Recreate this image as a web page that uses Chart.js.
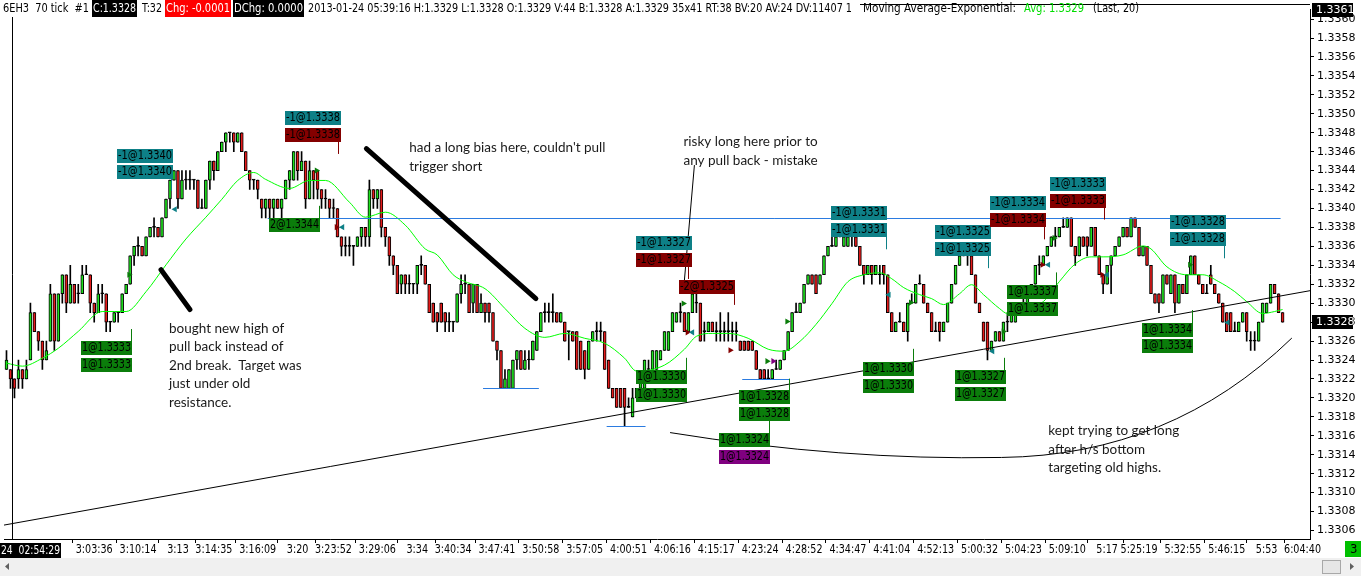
<!DOCTYPE html>
<html>
<head>
<meta charset="utf-8">
<title>6EH3 70 tick</title>
<script src="https://cdn.jsdelivr.net/npm/chart.js@4.4.1/dist/chart.umd.min.js"></script>
<style>
  html, body { margin: 0; padding: 0; background: #fff; }
  #wrap { width: 1361px; height: 576px; }
</style>
</head>
<body>
<div id="wrap"><canvas id="tickChart" width="1361" height="576"></canvas></div>
<script>
// 6EH3 70 tick bars, one entry per bar (bar index = position in the array)
const opens = [
  1.3323,1.3323,1.3322,1.3322,1.3323,1.3322,1.3324,1.3329,1.3327,1.3326,
  1.3324,1.3326,1.3331,1.3326,1.3331,1.3333,1.3330,1.3332,1.3331,1.3331,
  1.3333,1.3333,1.3330,1.3329,1.3331,1.3331,1.3328,1.3328,1.3329,1.3329,
  1.3331,1.3332,1.3335,1.3336,1.3336,1.3335,1.3337,1.3338,1.3338,1.3337,
  1.3339,1.3341,1.3343,1.3344,1.3341,1.3343,1.3343,1.3343,1.3343,1.3340,
  1.3340,1.3343,1.3345,1.3344,1.3346,1.3347,1.3348,1.3348,1.3347,1.3348,
  1.3346,1.3344,1.3343,1.3343,1.3341,1.3340,1.3341,1.3340,1.3341,1.3340,
  1.3341,1.3343,1.3343,1.3346,1.3344,1.3345,1.3341,1.3344,1.3344,1.3342,
  1.3341,1.3341,1.3340,1.3340,1.3337,1.3336,1.3336,1.3336,1.3336,1.3337,
  1.3338,1.3337,1.3342,1.3341,1.3342,1.3338,1.3337,1.3335,1.3334,1.3332,
  1.3333,1.3332,1.3332,1.3332,1.3334,1.3334,1.3332,1.3330,1.3329,1.3330,
  1.3329,1.3328,1.3328,1.3328,1.3331,1.3332,1.3332,1.3330,1.3332,1.3329,
  1.3330,1.3330,1.3329,1.3326,1.3325,1.3321,1.3321,1.3321,1.3324,1.3325,
  1.3323,1.3324,1.3324,1.3325,1.3327,1.3329,1.3329,1.3329,1.3329,1.3328,
  1.3328,1.3327,1.3327,1.3327,1.3326,1.3325,1.3323,1.3326,1.3327,1.3327,
  1.3327,1.3324,1.3321,1.3321,1.3321,1.3321,1.3319,1.3318,1.3320,1.3321,
  1.3321,1.3323,1.3323,1.3323,1.3324,1.3325,1.3325,1.3327,1.3328,1.3329,
  1.3329,1.3327,1.3329,1.3330,1.3330,1.3327,1.3327,1.3328,1.3327,1.3327,
  1.3327,1.3327,1.3327,1.3327,1.3326,1.3326,1.3326,1.3326,1.3325,1.3323,
  1.3323,1.3322,1.3322,1.3323,1.3323,1.3324,1.3325,1.3327,1.3329,1.3329,
  1.3330,1.3332,1.3333,1.3333,1.3332,1.3333,1.3335,1.3336,1.3336,1.3337,
  1.3336,1.3336,1.3337,1.3337,1.3336,1.3334,1.3333,1.3334,1.3333,1.3333,
  1.3334,1.3333,1.3329,1.3327,1.3328,1.3328,1.3327,1.3330,1.3330,1.3332,
  1.3332,1.3330,1.3329,1.3327,1.3328,1.3327,1.3328,1.3330,1.3332,1.3334,
  1.3335,1.3335,1.3335,1.3333,1.3330,1.3328,1.3328,1.3325,1.3326,1.3327,
  1.3326,1.3328,1.3328,1.3328,1.3329,1.3329,1.3330,1.3331,1.3332,1.3334,
  1.3334,1.3335,1.3336,1.3337,1.3337,1.3338,1.3338,1.3339,1.3336,1.3335,
  1.3337,1.3337,1.3336,1.3338,1.3335,1.3333,1.3332,1.3334,1.3335,1.3336,
  1.3337,1.3338,1.3337,1.3339,1.3338,1.3335,1.3336,1.3334,1.3331,1.3331,
  1.3330,1.3333,1.3331,1.3333,1.3330,1.3332,1.3331,1.3333,1.3335,1.3333,
  1.3332,1.3331,1.3333,1.3332,1.3331,1.3330,1.3329,1.3329,1.3327,1.3327,
  1.3328,1.3329,1.3326,1.3326,1.3326,1.3328,1.3329,1.3330,1.3332,1.3331,1.3329
];
const closes = [
  1.3324,1.3322,1.3321,1.3323,1.3322,1.3323,1.3329,1.3327,1.3326,1.3324,
  1.3325,1.3331,1.3326,1.3331,1.3333,1.3330,1.3332,1.3330,1.3331,1.3333,
  1.3333,1.3330,1.3329,1.3331,1.3331,1.3328,1.3328,1.3329,1.3329,1.3331,
  1.3332,1.3335,1.3336,1.3336,1.3335,1.3337,1.3338,1.3338,1.3337,1.3339,
  1.3341,1.3343,1.3344,1.3341,1.3343,1.3343,1.3343,1.3343,1.3340,1.3340,
  1.3343,1.3345,1.3344,1.3346,1.3347,1.3348,1.3348,1.3347,1.3348,1.3346,
  1.3344,1.3343,1.3343,1.3342,1.3340,1.3341,1.3340,1.3341,1.3340,1.3341,
  1.3343,1.3344,1.3346,1.3344,1.3345,1.3341,1.3344,1.3343,1.3342,1.3341,
  1.3341,1.3340,1.3340,1.3337,1.3336,1.3336,1.3336,1.3336,1.3337,1.3338,
  1.3337,1.3342,1.3341,1.3342,1.3338,1.3337,1.3335,1.3334,1.3331,1.3333,
  1.3332,1.3332,1.3332,1.3334,1.3334,1.3332,1.3329,1.3328,1.3328,1.3328,
  1.3328,1.3328,1.3328,1.3331,1.3332,1.3332,1.3329,1.3332,1.3329,1.3330,
  1.3329,1.3329,1.3326,1.3325,1.3321,1.3322,1.3323,1.3324,1.3325,1.3323,
  1.3324,1.3324,1.3326,1.3327,1.3329,1.3329,1.3329,1.3329,1.3328,1.3329,
  1.3326,1.3327,1.3326,1.3323,1.3323,1.3323,1.3326,1.3327,1.3327,1.3327,
  1.3323,1.3321,1.3320,1.3319,1.3319,1.3319,1.3319,1.3320,1.3321,1.3322,
  1.3324,1.3323,1.3325,1.3325,1.3325,1.3327,1.3327,1.3329,1.3329,1.3329,
  1.3327,1.3329,1.3331,1.3330,1.3326,1.3327,1.3328,1.3327,1.3327,1.3327,
  1.3327,1.3327,1.3327,1.3327,1.3325,1.3325,1.3325,1.3325,1.3323,1.3322,
  1.3322,1.3322,1.3323,1.3323,1.3324,1.3325,1.3327,1.3329,1.3329,1.3330,
  1.3332,1.3333,1.3332,1.3331,1.3333,1.3335,1.3336,1.3336,1.3337,1.3337,
  1.3337,1.3337,1.3337,1.3336,1.3334,1.3333,1.3334,1.3333,1.3334,1.3333,
  1.3333,1.3329,1.3327,1.3328,1.3328,1.3327,1.3330,1.3330,1.3332,1.3332,
  1.3330,1.3329,1.3327,1.3327,1.3327,1.3328,1.3330,1.3332,1.3334,1.3335,
  1.3335,1.3335,1.3333,1.3330,1.3329,1.3326,1.3325,1.3326,1.3327,1.3326,
  1.3328,1.3328,1.3329,1.3329,1.3330,1.3330,1.3331,1.3332,1.3334,1.3334,
  1.3335,1.3336,1.3337,1.3337,1.3338,1.3338,1.3339,1.3336,1.3335,1.3337,
  1.3336,1.3336,1.3338,1.3335,1.3333,1.3332,1.3334,1.3335,1.3336,1.3337,
  1.3338,1.3337,1.3339,1.3338,1.3335,1.3336,1.3334,1.3331,1.3330,1.3330,
  1.3333,1.3332,1.3333,1.3330,1.3332,1.3331,1.3333,1.3335,1.3333,1.3332,
  1.3331,1.3331,1.3332,1.3331,1.3330,1.3328,1.3327,1.3327,1.3327,1.3328,
  1.3329,1.3327,1.3326,1.3326,1.3328,1.3330,1.3330,1.3332,1.3331,1.3329,1.3328
];
const highs = [
  1.3325,1.3323,1.3322,1.3324,1.3323,1.3324,1.3330,1.3329,1.3327,1.3326,
  1.3326,1.3332,1.3331,1.3331,1.3333,1.3333,1.3334,1.3332,1.3332,1.3334,
  1.3334,1.3333,1.3330,1.3332,1.3332,1.3331,1.3328,1.3329,1.3329,1.3331,
  1.3332,1.3335,1.3336,1.3337,1.3336,1.3337,1.3338,1.3339,1.3338,1.3339,
  1.3341,1.3343,1.3344,1.3344,1.3344,1.3344,1.3344,1.3343,1.3343,1.3341,
  1.3343,1.3345,1.3345,1.3346,1.3347,1.3348,1.3348,1.3348,1.3348,1.3348,
  1.3346,1.3344,1.3343,1.3343,1.3341,1.3341,1.3341,1.3341,1.3341,1.3341,
  1.3343,1.3344,1.3346,1.3346,1.3346,1.3345,1.3345,1.3344,1.3344,1.3342,
  1.3342,1.3341,1.3341,1.3340,1.3337,1.3337,1.3337,1.3336,1.3337,1.3338,
  1.3338,1.3343,1.3342,1.3342,1.3342,1.3338,1.3337,1.3335,1.3334,1.3333,
  1.3333,1.3333,1.3332,1.3334,1.3335,1.3334,1.3332,1.3330,1.3329,1.3330,
  1.3329,1.3329,1.3328,1.3331,1.3333,1.3333,1.3332,1.3332,1.3332,1.3331,
  1.3330,1.3330,1.3329,1.3326,1.3325,1.3323,1.3323,1.3324,1.3325,1.3325,
  1.3325,1.3325,1.3326,1.3327,1.3329,1.3330,1.3330,1.3331,1.3329,1.3329,
  1.3328,1.3327,1.3327,1.3327,1.3326,1.3325,1.3326,1.3327,1.3328,1.3328,
  1.3327,1.3324,1.3321,1.3321,1.3321,1.3321,1.3320,1.3321,1.3321,1.3322,
  1.3324,1.3324,1.3325,1.3325,1.3325,1.3327,1.3327,1.3329,1.3329,1.3330,
  1.3329,1.3329,1.3332,1.3331,1.3330,1.3328,1.3328,1.3328,1.3328,1.3329,
  1.3328,1.3329,1.3328,1.3328,1.3326,1.3326,1.3326,1.3326,1.3325,1.3323,
  1.3323,1.3323,1.3323,1.3324,1.3324,1.3325,1.3327,1.3329,1.3330,1.3330,
  1.3332,1.3333,1.3333,1.3333,1.3333,1.3335,1.3336,1.3337,1.3337,1.3338,
  1.3337,1.3337,1.3338,1.3337,1.3336,1.3334,1.3334,1.3334,1.3334,1.3334,
  1.3334,1.3333,1.3329,1.3328,1.3329,1.3328,1.3330,1.3331,1.3332,1.3333,
  1.3332,1.3330,1.3329,1.3328,1.3328,1.3328,1.3330,1.3332,1.3334,1.3335,
  1.3336,1.3336,1.3335,1.3333,1.3330,1.3328,1.3328,1.3326,1.3327,1.3327,
  1.3328,1.3329,1.3329,1.3330,1.3330,1.3331,1.3331,1.3332,1.3334,1.3335,
  1.3335,1.3336,1.3337,1.3338,1.3338,1.3339,1.3339,1.3339,1.3336,1.3337,
  1.3337,1.3337,1.3338,1.3338,1.3335,1.3333,1.3334,1.3335,1.3336,1.3337,
  1.3338,1.3338,1.3339,1.3339,1.3338,1.3336,1.3336,1.3334,1.3331,1.3331,
  1.3333,1.3333,1.3333,1.3333,1.3332,1.3332,1.3333,1.3335,1.3335,1.3333,
  1.3332,1.3332,1.3334,1.3332,1.3331,1.3330,1.3329,1.3329,1.3328,1.3328,
  1.3329,1.3329,1.3327,1.3327,1.3328,1.3330,1.3330,1.3332,1.3332,1.3331,1.3329
];
const lows = [
  1.3323,1.3321,1.3320,1.3321,1.3321,1.3322,1.3324,1.3327,1.3325,1.3323,
  1.3324,1.3326,1.3325,1.3326,1.3330,1.3329,1.3330,1.3330,1.3330,1.3331,
  1.3333,1.3329,1.3328,1.3329,1.3330,1.3327,1.3327,1.3328,1.3328,1.3329,
  1.3331,1.3332,1.3334,1.3335,1.3335,1.3335,1.3337,1.3337,1.3337,1.3337,
  1.3339,1.3340,1.3343,1.3340,1.3341,1.3342,1.3342,1.3342,1.3340,1.3340,
  1.3340,1.3342,1.3343,1.3344,1.3346,1.3346,1.3347,1.3346,1.3347,1.3346,
  1.3344,1.3342,1.3342,1.3341,1.3339,1.3339,1.3339,1.3339,1.3340,1.3339,
  1.3341,1.3342,1.3343,1.3343,1.3344,1.3340,1.3341,1.3341,1.3341,1.3340,
  1.3340,1.3339,1.3339,1.3337,1.3335,1.3335,1.3335,1.3334,1.3336,1.3336,
  1.3336,1.3336,1.3340,1.3340,1.3337,1.3336,1.3334,1.3333,1.3331,1.3331,
  1.3331,1.3331,1.3331,1.3331,1.3333,1.3332,1.3329,1.3328,1.3327,1.3328,
  1.3327,1.3327,1.3327,1.3328,1.3330,1.3331,1.3329,1.3329,1.3329,1.3329,
  1.3328,1.3328,1.3326,1.3324,1.3321,1.3321,1.3321,1.3321,1.3323,1.3323,
  1.3323,1.3323,1.3324,1.3325,1.3327,1.3328,1.3328,1.3328,1.3328,1.3328,
  1.3326,1.3324,1.3326,1.3323,1.3323,1.3322,1.3323,1.3326,1.3326,1.3326,
  1.3323,1.3321,1.3320,1.3319,1.3319,1.3317,1.3319,1.3318,1.3320,1.3320,
  1.3321,1.3322,1.3323,1.3323,1.3324,1.3325,1.3325,1.3327,1.3328,1.3328,
  1.3327,1.3327,1.3329,1.3329,1.3326,1.3326,1.3327,1.3327,1.3326,1.3326,
  1.3326,1.3326,1.3326,1.3326,1.3325,1.3325,1.3325,1.3325,1.3323,1.3322,
  1.3322,1.3322,1.3322,1.3323,1.3323,1.3324,1.3325,1.3327,1.3329,1.3329,
  1.3330,1.3332,1.3332,1.3331,1.3332,1.3333,1.3335,1.3336,1.3336,1.3337,
  1.3336,1.3336,1.3336,1.3336,1.3334,1.3332,1.3333,1.3332,1.3333,1.3332,
  1.3332,1.3329,1.3327,1.3327,1.3328,1.3327,1.3326,1.3330,1.3330,1.3332,
  1.3330,1.3329,1.3327,1.3327,1.3326,1.3327,1.3328,1.3330,1.3332,1.3334,
  1.3335,1.3334,1.3333,1.3330,1.3329,1.3326,1.3324,1.3325,1.3326,1.3326,
  1.3326,1.3327,1.3328,1.3328,1.3329,1.3329,1.3330,1.3331,1.3332,1.3333,
  1.3334,1.3335,1.3336,1.3336,1.3337,1.3338,1.3338,1.3336,1.3334,1.3335,
  1.3336,1.3335,1.3336,1.3335,1.3333,1.3331,1.3332,1.3331,1.3335,1.3336,
  1.3337,1.3337,1.3337,1.3338,1.3335,1.3335,1.3334,1.3331,1.3330,1.3329,
  1.3330,1.3332,1.3331,1.3329,1.3330,1.3331,1.3331,1.3333,1.3333,1.3332,
  1.3331,1.3331,1.3332,1.3331,1.3330,1.3328,1.3327,1.3327,1.3327,1.3327,
  1.3328,1.3326,1.3325,1.3325,1.3326,1.3328,1.3329,1.3330,1.3331,1.3329,1.3328
];

// Exponential moving average (Last, 20) at these bars
const emaBar = [0,4,9,13,18,24,27,30,35,40,45,50,54,58,62,65,71,76,80,86,
  90,95,100,105,108,112,115,120,125,130,135,140,145,150,155,158,165,170,173,177,
  181,186,191,195,199,203,207,211,215,219,222,225,229,232,235,239,242,245,249,251,
  255,260,264,268,272,275,280,285,287,291,296,300,304,308,311,315,318,320];
const emaValue = [1.332367,1.332335,1.332419,1.332524,1.332702,1.332912,1.332912,1.332912,1.333122,1.333405,
  1.333678,1.333908,1.334097,1.334296,1.33438,1.334307,1.334212,1.334296,1.334296,1.334066,
  1.333908,1.333961,1.333824,1.333573,1.33351,1.3333,1.333227,1.333153,1.332944,1.332734,
  1.332639,1.332681,1.332629,1.332577,1.332419,1.332283,1.332346,1.332514,1.33265,1.332681,
  1.332681,1.332629,1.332514,1.332493,1.332598,1.332776,1.332996,1.333227,1.3333,1.333321,
  1.333258,1.333164,1.33309,1.333048,1.332985,1.3331,1.333195,1.33309,1.332944,1.332891,
  1.332933,1.333017,1.333227,1.333415,1.333489,1.333489,1.33351,1.333604,1.333573,1.333384,
  1.3333,1.3333,1.333227,1.333122,1.333017,1.332891,1.332912,1.332933];

// executions drawn as small arrows on the bars
const fillBar = [30.75,42.25,77.75,82.75,84.25,169.75,170.75,172,181.5,190.75,192.25,195.75,
  221.25,226.75,247.25,250,259.75,261.25,262.75,274.75,276,296.75,306.25];
const fillPrice = [1.3333,1.333992,1.334401,1.333803,1.333803,1.332996,1.332692,1.332692,1.332503,1.332388,1.332388,1.332807,
  1.33309,1.333006,1.332493,1.332702,1.333405,1.333405,1.333688,1.3333,1.3333,1.333405,1.332797];
const fillSide = ['buy','sell','buy','exit','sell','buy','exit','sell','exit','buy','stop','buy',
  'sell','buy','sell','buy','exit','sell','buy','exit','sell','buy','sell'];

// time axis
const tickBars = [22,33,43,52,63,73,82,93,103,112,123,134,145,156,167,178,189,200,211,222,233,244,255,266,276,284,295,306,316,325];
const tickTimes = ['3:03:36','3:10:14','3:13','3:14:35','3:16:09','3:20','3:23:52','3:29:06','3:34','3:40:34',
  '3:47:41','3:50:58','3:57:05','4:00:51','4:06:16','4:15:17','4:23:24','4:28:52','4:34:47','4:41:04',
  '4:52:13','5:00:32','5:04:23','5:09:10','5:17','5:25:19','5:32:55','5:46:15','5:53','6:04:40'];
const priceTicks = [1.3306,1.3308,1.3310,1.3312,1.3314,1.3316,1.3318,1.3320,1.3322,1.3324,1.3326,1.3328,1.3330,
  1.3332,1.3334,1.3336,1.3338,1.3340,1.3342,1.3344,1.3346,1.3348,1.3350,1.3352,1.3354,1.3356,1.3358,1.3360];

// order labels: [bar, top price, text, kind]
const tradeLabels = [
  [27.75,1.334632,'-1@1.3340','sell'],[27.75,1.334454,'-1@1.3340','sell'],
  [69.75,1.33503,'-1@1.3338','sell'],[69.75,1.334852,'-1@1.3338','exit'],
  [65.75,1.333898,'2@1.3344','buy'],
  [18.75,1.332597,'1@1.3333','buy'],[18.75,1.332419,'1@1.3333','buy'],
  [157.75,1.333709,'-1@1.3327','sell'],[157.75,1.333531,'-1@1.3327','exit'],
  [168.75,1.333248,'-2@1.3325','exit'],
  [157.75,1.332293,'1@1.3330','buy'],[157.75,1.332105,'1@1.3330','buy'],
  [183.75,1.332084,'1@1.3328','buy'],[183.75,1.331905,'1@1.3328','buy'],
  [178.75,1.331633,'1@1.3324','buy'],[178.75,1.331454,'1@1.3324','stop'],
  [206.75,1.334024,'-1@1.3331','sell'],[206.75,1.333845,'-1@1.3331','sell'],
  [214.75,1.332377,'1@1.3330','buy'],[214.75,1.332199,'1@1.3330','buy'],
  [232.75,1.333824,'-1@1.3325','sell'],[232.75,1.333646,'-1@1.3325','sell'],
  [246.75,1.334129,'-1@1.3334','sell'],[246.75,1.33395,'-1@1.3334','exit'],
  [261.75,1.334328,'-1@1.3333','sell'],[261.75,1.33415,'-1@1.3333','exit'],
  [251,1.333195,'1@1.3337','buy'],[251,1.333017,'1@1.3337','buy'],
  [237.75,1.332293,'1@1.3327','buy'],[237.75,1.332115,'1@1.3327','buy'],
  [291.75,1.333929,'-1@1.3328','sell'],[291.75,1.333751,'-1@1.3328','sell'],
  [284.75,1.332786,'1@1.3334','buy'],[284.75,1.332618,'1@1.3334','buy']
];
// little leader lines under the labels: [bar, price from, price to, kind]
const labelLeaders = [
  [41.25,1.334307,1.334191,'sell'],[83.25,1.334716,1.33458,'exit'],[78.25,1.334024,1.333898,'buy'],
  [31.25,1.332723,1.332597,'buy'],[171,1.333394,1.33326,'exit'],[182.5,1.333111,1.332986,'exit'],
  [170.5,1.332419,1.332293,'buy'],[196.25,1.332199,1.332084,'buy'],[191.25,1.331759,1.331633,'buy'],
  [220.5,1.333709,1.333573,'sell'],[227.25,1.332514,1.332377,'buy'],[246.25,1.3335,1.333374,'sell'],
  [260.25,1.333814,1.333678,'exit'],[275.25,1.334013,1.333887,'exit'],[263.25,1.333321,1.333195,'buy'],
  [250.25,1.332419,1.332293,'buy'],[305.25,1.333615,1.333478,'sell'],[297.25,1.332923,1.332786,'buy']
];
// hand written notes: [bar, price of first line, lines]
const notes = [
  [40.75,1.332734,['bought new high of','pull back instead of','2nd break.  Target was','just under old','resistance.']],
  [101,1.334642,["had a long bias here, couldn't pull",'trigger short']],
  [169.75,1.334705,['risky long here prior to','any pull back - mistake']],
  [261.25,1.331654,['kept trying to get long','after h/s bottom','targeting old highs.']]
];
// drawn lines: [bar1, price1, bar2, price2, width]
const drawnLines = [
  [-0.625,1.330657,326.875,1.333132,1],
  [38.75,1.333353,46,1.332933,5],
  [90.25,1.334632,132.75,1.333048,5],
  [172.5,1.334454,169.75,1.333122,1]
];
// head and shoulders bottom curve: start, control, mid, control, end
const hsCurve = [[166.5,1.331633],[209.5,1.331339],[249.5,1.331371],[292,1.331392],[322.25,1.332629]];
// horizontal levels: [price, from bar, to bar]
const levels = [[1.3339,65.5,319.5],[1.3321,119.5,133.5],[1.3317,150.5,160.25],[1.3322,184.5,196.25]];

const UP = '#1ee01e', DOWN = '#e41b1b';
const KIND = { buy: '#0b7d0b', sell: '#0e8087', exit: '#840000', stop: '#800080' };
const NARROW = "'DejaVu Sans Condensed','Liberation Sans Narrow',sans-serif";

// squeeze a string horizontally, like the platform's narrow font
function narrowText(c, s, x, y, squeeze, align) {
  const w = c.measureText(s).width * squeeze;
  const left = align === 'center' ? x - w / 2 : x;
  c.fillText(s, left, y, w);
}

const overlay = {
  id: 'overlay',
  beforeDraw(chart) {
    const c = chart.ctx;
    c.save();
    c.fillStyle = '#fff';
    c.fillRect(0, 0, chart.width, chart.height);
    c.restore();
  },
  afterDatasetsDraw(chart) {
    const c = chart.ctx, a = chart.chartArea;
    const X = v => chart.scales.x.getPixelForValue(v);
    const Y = v => chart.scales.y.getPixelForValue(v);
    c.save();
    c.beginPath();
    c.rect(a.left, a.top, a.right - a.left, a.bottom - a.top);
    c.clip();

    // session break
    c.strokeStyle = '#000';
    c.lineWidth = 1;
    c.beginPath();
    c.moveTo(Math.round(X(1.5)) + 0.5, a.top);
    c.lineTo(Math.round(X(1.5)) + 0.5, a.bottom);
    c.stroke();

    // levels
    c.strokeStyle = '#2b7be0';
    levels.forEach(([p, b1, b2]) => {
      const y = Math.round(Y(p)) + 0.5;
      c.beginPath(); c.moveTo(X(b1), y); c.lineTo(X(b2), y); c.stroke();
    });

    // trend lines
    c.strokeStyle = '#000';
    c.lineCap = 'round';
    drawnLines.forEach(([b1, p1, b2, p2, w]) => {
      c.lineWidth = w;
      c.beginPath(); c.moveTo(X(b1), Y(p1)); c.lineTo(X(b2), Y(p2)); c.stroke();
    });
    c.lineWidth = 1;
    c.beginPath();
    c.moveTo(X(hsCurve[0][0]), Y(hsCurve[0][1]));
    c.quadraticCurveTo(X(hsCurve[1][0]), Y(hsCurve[1][1]), X(hsCurve[2][0]), Y(hsCurve[2][1]));
    c.quadraticCurveTo(X(hsCurve[3][0]), Y(hsCurve[3][1]), X(hsCurve[4][0]), Y(hsCurve[4][1]));
    c.stroke();

    // leaders
    labelLeaders.forEach(([b, p1, p2, k]) => {
      c.strokeStyle = KIND[k];
      const x = Math.round(X(b)) + 0.5;
      c.beginPath(); c.moveTo(x, Y(p1)); c.lineTo(x, Y(p2)); c.stroke();
    });

    // order labels
    c.font = "11.5px 'DejaVu Sans Condensed','DejaVu Sans',sans-serif";
    c.textBaseline = 'middle';
    tradeLabels.forEach(([b, p, txt, k]) => {
      const x = Math.round(X(b)), y = Math.round(Y(p));
      const w = txt.startsWith('-') ? 56 : 51;
      c.fillStyle = KIND[k];
      c.fillRect(x, y, w, 14);
      c.fillStyle = '#000';
      c.fillText(txt, x + 1, y + 7.5, w - 2);
    });

    // notes
    c.font = "13.5px Lato, 'Open Sans', sans-serif";
    c.fillStyle = '#1a1a1a';
    notes.forEach(([b, p, lines]) => {
      lines.forEach((ln, k) => c.fillText(ln, X(b), Y(p) + k * 18.5));
    });
    c.restore();
  },
  afterDraw(chart) {
    const c = chart.ctx, a = chart.chartArea;
    const X = v => chart.scales.x.getPixelForValue(v);
    const Y = v => chart.scales.y.getPixelForValue(v);
    c.save();
    // top border
    c.strokeStyle = '#000';
    c.lineWidth = 1;
    c.beginPath(); c.moveTo(0, 4.5); c.lineTo(a.right, 4.5); c.stroke();

    // time labels
    c.textBaseline = 'middle';
    c.font = '13px ' + NARROW;
    c.fillStyle = '#000';
    tickBars.forEach((b, k) => narrowText(c, tickTimes[k], X(b), 550, 0.82, 'center'));

    // header line
    const hy = 9;
    const txt = (s, x, w, col) => { c.fillStyle = col || '#000'; c.fillText(s, x, hy, w); };
    const box = (s, x1, x2, bg) => {
      c.fillStyle = bg; c.fillRect(x1, 0, x2 - x1, 17);
      c.fillStyle = '#fff'; c.fillText(s, x1 + 1, hy, x2 - x1 - 2);
    };
    c.fillStyle = '#fff'; c.fillRect(0, 0, 860, 17);
    txt('6EH3  70 tick  #1', 3, 86);
    box('C:1.3328', 92, 137, '#000');
    txt('T:32', 142, 20);
    box('Chg: -0.0001', 165, 231, '#ff0000');
    box('DChg: 0.0000', 233, 304, '#000');
    txt('2013-01-24 05:39:16 H:1.3329 L:1.3328 O:1.3329 V:44 B:1.3328 A:1.3329 35x41 RT:38 BV:20 AV:24 DV:11407 1', 308, 544);
    c.fillStyle = '#fff'; c.fillRect(860, 5, 290, 12);
    txt('Moving Average-Exponential:', 863, 153);
    txt('Avg: 1.3329', 1024, 60, '#00dd00');
    txt('(Last, 20)', 1093, 46);

    // price highlights on the axis
    c.font = "11px 'DejaVu Sans',sans-serif";
    [1.3361, closes[closes.length - 1]].forEach(p => {
      const y = Math.round(Y(p));
      c.fillStyle = '#000'; c.fillRect(a.right + 2, y - 7, 41, 14);
      c.fillStyle = '#fff'; c.fillText(p.toFixed(4), a.right + 6, y + 0.5);
    });

    // cursor time box
    c.font = '13px ' + NARROW;
    c.fillStyle = '#000'; c.fillRect(0, 543, 61, 15);
    c.fillStyle = '#fff'; c.fillText('24  02:54:29', 1, 551, 59);

    // green counter box
    c.fillStyle = '#00c000'; c.fillRect(1345, 541, 16, 16);
    c.fillStyle = '#000'; c.fillText('3', 1350, 549.5);

    // scroll bar
    c.fillStyle = '#f0f0f0'; c.fillRect(0, 558, chart.width, 18);
    c.fillStyle = '#606060';
    c.beginPath(); c.moveTo(9, 563); c.lineTo(9, 570); c.lineTo(5, 566.5); c.fill();
    c.fillStyle = '#e6e6e6'; c.fillRect(1322, 560, 19, 14);
    c.strokeStyle = '#a8a8a8'; c.strokeRect(1322.5, 560.5, 18, 13);
    c.fillStyle = '#606060';
    c.beginPath(); c.moveTo(1350, 563); c.lineTo(1350, 570); c.lineTo(1354, 566.5); c.fill();
    c.restore();
  }
};

const ctx = document.getElementById('tickChart').getContext('2d');
new Chart(ctx, {
  type: 'bar',
  data: {
    datasets: [
      {
        type: 'line',
        label: 'EMA 20',
        data: emaBar.map((b, k) => ({ x: b, y: emaValue[k] })),
        borderColor: '#00ff00',
        borderWidth: 1,
        pointRadius: 0,
        cubicInterpolationMode: 'monotone',
        order: 0
      },
      {
        type: 'line',
        label: 'fills',
        data: fillBar.map((b, k) => ({ x: b, y: fillPrice[k] })),
        showLine: false,
        pointStyle: 'triangle',
        pointRadius: 3.5,
        pointRotation: fillSide.map(s => s === 'sell' ? -90 : 90),
        pointBackgroundColor: fillSide.map(s => KIND[s]),
        pointBorderWidth: 0,
        order: 0
      },
      {
        label: 'body',
        data: opens.map((o, i) => ({ x: i, y: [o, closes[i]] })),
        backgroundColor: opens.map((o, i) => closes[i] > o ? UP : closes[i] < o ? DOWN : '#000'),
        borderColor: '#000',
        borderWidth: 1,
        borderSkipped: false,
        barThickness: 3,
        minBarLength: 1,
        grouped: false,
        order: 1
      },
      {
        label: 'wick',
        data: lows.map((l, i) => ({ x: i, y: [l, highs[i]] })),
        backgroundColor: '#000',
        borderWidth: 0,
        barThickness: 1,
        grouped: false,
        order: 2
      }
    ]
  },
  options: {
    responsive: false,
    animation: false,
    events: [],
    layout: { padding: { top: 6, left: 0, right: 0, bottom: 0 } },
    plugins: { legend: { display: false }, tooltip: { enabled: false } },
    scales: {
      x: {
        type: 'linear',
        min: -0.625,
        max: 326.875,
        offset: false,
        grid: { drawOnChartArea: false, drawTicks: true, tickLength: 4, color: '#000' },
        border: { display: true, color: '#000' },
        ticks: { display: false, autoSkip: false },
        afterBuildTicks: s => { s.ticks = tickBars.map(v => ({ value: v })); },
        afterFit: s => { s.height = 37; }
      },
      y: {
        position: 'right',
        min: 1.33051,
        max: 1.3361,
        grid: { drawOnChartArea: false, tickLength: 4, color: '#000' },
        border: { color: '#000' },
        ticks: {
          font: { family: "'DejaVu Sans',sans-serif", size: 11 },
          color: '#000',
          padding: 3,
          autoSkip: false,
          callback: v => v.toFixed(4)
        },
        afterBuildTicks: s => { s.ticks = priceTicks.map(v => ({ value: v })); },
        afterFit: s => { s.width = 51; }
      }
    }
  },
  plugins: [overlay]
});
</script>
</body>
</html>
